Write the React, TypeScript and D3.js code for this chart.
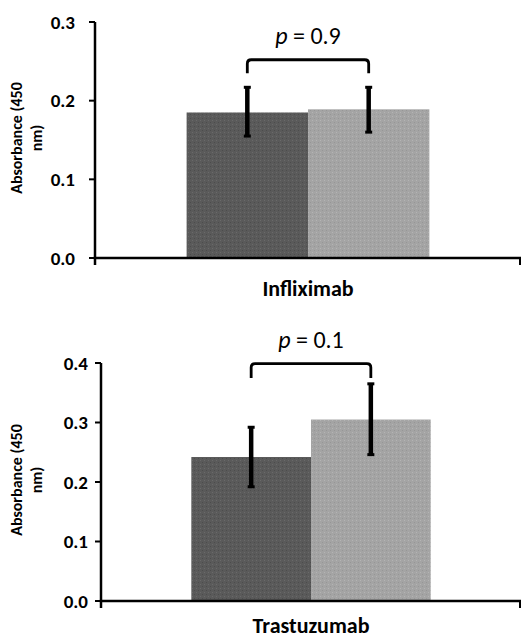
import React from "react";
import * as d3 from "d3";

// ---- data ----
const groups = ["Control", "Treated"];
const inflixCategory = ["Infliximab"];
const inflixMeans = [0.185, 0.189];
const inflixErrLow = [0.155, 0.16];
const inflixErrHigh = [0.217, 0.217];
const inflixTicks = [0.0, 0.1, 0.2, 0.3];
const inflixP = "0.9";
const inflixBracket = [0.252, 0.235];

const trastCategory = ["Trastuzumab"];
const trastMeans = [0.242, 0.305];
const trastErrLow = [0.192, 0.246];
const trastErrHigh = [0.292, 0.365];
const trastTicks = [0.0, 0.1, 0.2, 0.3, 0.4];
const trastP = "0.1";
const trastBracket = [0.399, 0.375];

const FONT = "Carlito, Lato, 'Open Sans', sans-serif";
const fills = ["url(#patDark)", "url(#patLight)"];

type PanelProps = {
  category: string[];
  means: number[];
  lo: number[];
  hi: number[];
  ticks: number[];
  pval: string;
  bracket: number[];
  x0: number;
  x1: number;
  yTop: number;
  yBot: number;
  labelGap: number;
  catOffset: number;
};

function Panel(p: PanelProps) {
  const yMax = p.ticks[p.ticks.length - 1];
  const y = d3.scaleLinear().domain([0, yMax]).range([p.yBot, p.yTop]);
  const xOuter = d3
    .scaleBand<string>()
    .domain(p.category)
    .range([p.x0, p.x1])
    .paddingInner(0.274)
    .paddingOuter(0.274);
  const cat = p.category[0];
  const xInner = d3
    .scaleBand<string>()
    .domain(groups)
    .range([xOuter(cat)!, xOuter(cat)! + xOuter.bandwidth()])
    .padding(0);
  const cx = (g: string) => xInner(g)! + xInner.bandwidth() / 2;
  const bx1 = cx(groups[0]);
  const bx2 = cx(groups[1]);
  const bTop = y(p.bracket[0]);
  const bLeg = y(p.bracket[1]);
  const r = 4;
  const bracketPath = `M${bx1},${bLeg} L${bx1},${bTop + r} Q${bx1},${bTop} ${bx1 + r},${bTop} L${bx2 - r},${bTop} Q${bx2},${bTop} ${bx2},${bTop + r} L${bx2},${bLeg}`;
  const midY = (p.yTop + p.yBot) / 2;
  const catCenter = xOuter(cat)! + xOuter.bandwidth() / 2;
  return (
    <g>
      {groups.map((g, i) => (
        <rect
          key={g}
          x={xInner(g)}
          y={y(p.means[i])}
          width={xInner.bandwidth()}
          height={y(0) - y(p.means[i])}
          fill={fills[i]}
        />
      ))}
      {groups.map((g, i) => (
        <g key={"e" + g} stroke="#000">
          <line x1={cx(g)} x2={cx(g)} y1={y(p.hi[i])} y2={y(p.lo[i])} strokeWidth={4.5} />
          <line x1={cx(g) - 3.5} x2={cx(g) + 3.5} y1={y(p.hi[i])} y2={y(p.hi[i])} strokeWidth={3} />
          <line x1={cx(g) - 3.5} x2={cx(g) + 3.5} y1={y(p.lo[i])} y2={y(p.lo[i])} strokeWidth={3} />
        </g>
      ))}
      <path d={bracketPath} fill="none" stroke="#000" strokeWidth={2.8} />
      <text
        x={(bx1 + bx2) / 2}
        y={bTop - 16}
        textAnchor="middle"
        fontFamily={FONT}
        fontSize={24}
        fill="#000"
      >
        <tspan fontStyle="italic">p</tspan> = {p.pval}
      </text>
      {/* axes */}
      <line x1={p.x0} x2={p.x0} y1={p.yTop} y2={p.yBot + 7} stroke="#000" strokeWidth={2.5} />
      <line x1={p.x0 - 1.25} x2={p.x1} y1={p.yBot} y2={p.yBot} stroke="#000" strokeWidth={2.5} />
      <line x1={p.x1 - 1} x2={p.x1 - 1} y1={p.yBot} y2={p.yBot + 7} stroke="#000" strokeWidth={2} />
      {p.ticks.map((t) => (
        <g key={t}>
          <line x1={p.x0 - 6} x2={p.x0} y1={y(t)} y2={y(t)} stroke="#000" strokeWidth={2} />
          <text
            x={p.x0 - p.labelGap}
            y={y(t)}
            dy="0.35em"
            textAnchor="end"
            fontFamily={FONT}
            fontWeight="bold"
            fontSize={19}
            fill="#000"
          >
            {d3.format(".1f")(t)}
          </text>
        </g>
      ))}
      <text
        x={catCenter}
        y={p.yBot + p.catOffset}
        textAnchor="middle"
        fontFamily={FONT}
        fontWeight="bold"
        fontSize={22}
        fill="#000"
      >
        {cat}
      </text>
      <text
        transform={`translate(22,${midY - 2}) rotate(-90)`}
        textAnchor="middle"
        fontFamily={FONT}
        fontWeight="bold"
        fontSize={16}
        fill="#000"
      >
        <tspan x={0} y={0}>Absorbance (450</tspan>
        <tspan x={0} y={20}>nm)</tspan>
      </text>
    </g>
  );
}

export default function App() {
  return (
    <svg
      width={522}
      height={638}
      style={{ position: "absolute", left: 0, top: 0, background: "#fff" }}
    >
      <defs>
        <pattern id="patDark" width="4" height="4" patternUnits="userSpaceOnUse">
          <rect width="4" height="4" fill="#5a5a5a" />
          <rect width="1" height="1" x="0" y="0" fill="#6a6a6a" />
          <rect width="1" height="1" x="2" y="2" fill="#4c4c4c" />
        </pattern>
        <pattern id="patLight" width="4" height="4" patternUnits="userSpaceOnUse">
          <rect width="4" height="4" fill="#a4a4a4" />
          <rect width="1" height="1" x="0" y="0" fill="#b4b4b4" />
          <rect width="1" height="1" x="2" y="2" fill="#969696" />
        </pattern>
      </defs>
      <rect width={522} height={638} fill="#fff" />
      <Panel
        category={inflixCategory}
        means={inflixMeans}
        lo={inflixErrLow}
        hi={inflixErrHigh}
        ticks={inflixTicks}
        pval={inflixP}
        bracket={inflixBracket}
        x0={95}
        x1={521}
        yTop={22}
        yBot={258}
        labelGap={20}
        catOffset={38}
      />
      <Panel
        category={trastCategory}
        means={trastMeans}
        lo={trastErrLow}
        hi={trastErrHigh}
        ticks={trastTicks}
        pval={trastP}
        bracket={trastBracket}
        x0={101}
        x1={521}
        yTop={363}
        yBot={601}
        labelGap={13}
        catOffset={32}
      />
    </svg>
  );
}
